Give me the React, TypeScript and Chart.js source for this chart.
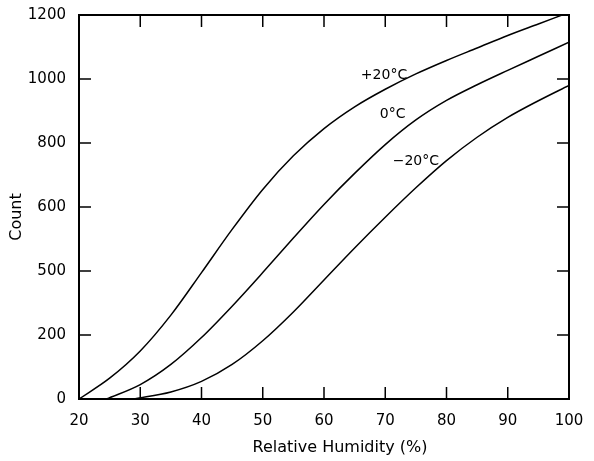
import React, { useEffect, useRef } from "react";
import { Chart, registerables } from "chart.js";

Chart.register(...registerables);

// X values (Relative Humidity, %) and counts for each temperature curve
const plus20X = [20, 25, 30, 35, 40, 45, 50, 55, 60, 65, 70, 75, 80, 85, 90, 95, 100];
const plus20Y = [0, 65, 150, 262, 395, 530, 655, 760, 845, 913, 968, 1016, 1058, 1097, 1136, 1172, 1208];

const zeroX = [24.5, 30, 35, 40, 45, 50, 55, 60, 65, 70, 75, 80, 85, 90, 95, 100];
const zeroY = [0, 45, 108, 192, 290, 395, 503, 608, 705, 795, 872, 933, 982, 1027, 1071, 1115];

const minus20X = [29, 35, 40, 45, 50, 55, 60, 65, 70, 75, 80, 85, 90, 95, 100];
const minus20Y = [0, 22, 55, 108, 182, 272, 372, 472, 568, 660, 745, 818, 880, 932, 980];

// Axis ticks
const xTickValues = [20, 30, 40, 50, 60, 70, 80, 90, 100];
const yTickValues = [0, 200, 400, 600, 800, 1000, 1200];
const yTickLabels = ["0", "200", "500", "600", "800", "1000", "1200"];

// Curve labels
const curveLabels = ["+20°C", "0°C", "−20°C"];
const curveLabelX = [69.8, 71.2, 75.0];
const curveLabelY = [1011, 891, 744];

const xTitle = "Relative Humidity (%)";
const yTitle = "Count";

const FONT = "'DejaVu Sans', sans-serif";

const toPoints = (xs: number[], ys: number[]) => xs.map((x, i) => ({ x, y: ys[i] }));

const framePlugin = {
  id: "framePlugin",
  afterDraw(chart: any) {
    const { ctx, chartArea, scales } = chart;
    const xs = scales.x;
    const ys = scales.y;
    const { left, right, top, bottom } = chartArea;
    ctx.save();
    ctx.strokeStyle = "#000";
    ctx.lineWidth = 2;
    ctx.strokeRect(left, top, right - left, bottom - top);
    ctx.lineWidth = 1.5;
    const tl = 12;
    ctx.beginPath();
    xTickValues.forEach((v) => {
      if (v === 20 || v === 100) return;
      const px = xs.getPixelForValue(v);
      ctx.moveTo(px, bottom);
      ctx.lineTo(px, bottom - tl);
      ctx.moveTo(px, top);
      ctx.lineTo(px, top + tl);
    });
    yTickValues.forEach((v) => {
      if (v === 0 || v === 1200) return;
      const py = ys.getPixelForValue(v);
      ctx.moveTo(left, py);
      ctx.lineTo(left + tl, py);
      ctx.moveTo(right, py);
      ctx.lineTo(right - tl, py);
    });
    ctx.stroke();

    // curve labels
    ctx.fillStyle = "#000";
    ctx.font = `14px ${FONT}`;
    ctx.textAlign = "center";
    ctx.textBaseline = "middle";
    curveLabels.forEach((t, i) => {
      ctx.fillText(t, xs.getPixelForValue(curveLabelX[i]), ys.getPixelForValue(curveLabelY[i]));
    });

    // axis titles
    ctx.font = `16px ${FONT}`;
    ctx.fillText(xTitle, 340, 448);
    ctx.translate(17, 217);
    ctx.rotate(-Math.PI / 2);
    ctx.fillText(yTitle, 0, 0);
    ctx.restore();
  },
};

export default function App() {
  const ref = useRef<HTMLCanvasElement | null>(null);

  useEffect(() => {
    if (!ref.current) return;
    const lineStyle = {
      borderColor: "#000",
      borderWidth: 1.5,
      pointRadius: 0,
      fill: false,
      cubicInterpolationMode: "monotone" as const,
    };
    const chart = new Chart(ref.current, {
      type: "line",
      data: {
        datasets: [
          { label: curveLabels[0], data: toPoints(plus20X, plus20Y), ...lineStyle },
          { label: curveLabels[1], data: toPoints(zeroX, zeroY), ...lineStyle },
          { label: curveLabels[2], data: toPoints(minus20X, minus20Y), ...lineStyle },
        ],
      },
      options: {
        responsive: false,
        animation: false,
        layout: { padding: { left: 0, right: 25, top: 15, bottom: 0 } },
        plugins: {
          legend: { display: false },
          tooltip: { enabled: false },
        },
        scales: {
          x: {
            type: "linear",
            min: 20,
            max: 100,
            grid: { display: false },
            border: { display: false },
            afterBuildTicks: (s: any) => {
              s.ticks = xTickValues.map((v) => ({ value: v }));
            },
            afterFit: (s: any) => {
              s.height = 62;
            },
            ticks: {
              padding: 5,
              color: "#000",
              font: { family: FONT, size: 15 },
              maxRotation: 0,
              callback: (v: any) => String(v),
            },
          },
          y: {
            type: "linear",
            min: 0,
            max: 1200,
            grid: { display: false },
            border: { display: false },
            afterBuildTicks: (s: any) => {
              s.ticks = yTickValues.map((v) => ({ value: v }));
            },
            afterFit: (s: any) => {
              s.width = 79;
            },
            ticks: {
              padding: 5,
              color: "#000",
              font: { family: FONT, size: 15 },
              callback: (v: any) => {
                const i = yTickValues.indexOf(Number(v));
                return i >= 0 ? yTickLabels[i] : "";
              },
            },
          },
        },
      },
      plugins: [framePlugin],
    });
    return () => chart.destroy();
  }, []);

  return (
    <div style={{ position: "absolute", left: 0, top: 0, width: 594, height: 461, background: "#fff" }}>
      <canvas ref={ref} width={594} height={461} style={{ display: "block" }} />
    </div>
  );
}
